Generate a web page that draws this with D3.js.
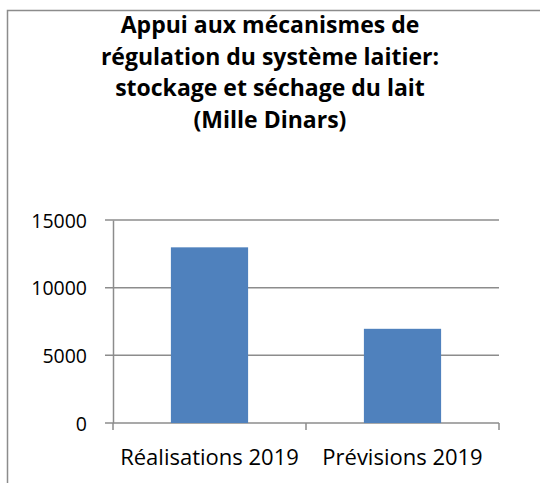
<!DOCTYPE html>
<html>
<head>
<meta charset="utf-8">
<script src="https://cdn.jsdelivr.net/npm/d3@7"></script>
<style>
  body { margin: 0; background: #fff; }
  svg { display: block; }
</style>
</head>
<body>
<div id="chart"></div>
<script>
const categories = ["Réalisations 2019", "Prévisions 2019"];
const values = [12980, 6960];
const yTicks = [0, 5000, 10000, 15000];
const titleLines = [
    "Appui aux mécanismes de",
    "régulation du système laitier:",
    "stockage et séchage du lait",
    "(Mille Dinars)"
];

const W = 540, H = 483;
const margin = { top: 220, right: 41, bottom: 60, left: 113 };
const width = W - margin.left - margin.right;
const height = 423 - margin.top;

const svg = d3.select("#chart")
    .append("svg")
    .attr("width", W)
    .attr("height", H);

// chart frame (right/bottom edges fall outside the picture)
svg.append("path")
    .attr("d", `M7.5,${H + 5} L7.5,10.5 L${W + 5},10.5`)
    .attr("fill", "none")
    .attr("stroke", "#8c8c8c")
    .attr("stroke-width", 1.5);

// title
svg.append("g")
    .selectAll("text")
    .data(titleLines)
    .enter()
    .append("text")
    .attr("x", 270)
    .attr("y", (d, i) => 33 + i * 31.5)
    .attr("text-anchor", "middle")
    .attr("font-family", "'Open Sans', sans-serif")
    .attr("font-weight", "bold")
    .attr("font-size", "23px")
    .attr("fill", "#000")
    .text(d => d);

const g = svg.append("g")
    .attr("transform", `translate(${margin.left},${margin.top})`);

const x = d3.scaleBand()
    .domain(categories)
    .range([0, width])
    .paddingInner(0.6)
    .paddingOuter(0.3);

const y = d3.scaleLinear()
    .domain([0, 15000])
    .range([height, 0]);

// gridlines
g.append("g")
    .selectAll("line")
    .data(yTicks)
    .enter()
    .append("line")
    .attr("x1", -8)
    .attr("x2", width)
    .attr("y1", d => y(d))
    .attr("y2", d => y(d))
    .attr("stroke", "#8c8c8c")
    .attr("stroke-width", 1.5);

// bars
g.selectAll(".bar")
    .data(values)
    .enter()
    .append("rect")
    .attr("class", "bar")
    .attr("x", (d, i) => x(categories[i]))
    .attr("y", d => y(d))
    .attr("width", x.bandwidth())
    .attr("height", d => height - y(d))
    .attr("fill", "#4f81bd");

// y axis
const yAxis = g.append("g")
    .call(d3.axisLeft(y).tickValues(yTicks).tickSize(0).tickPadding(26).tickFormat(d3.format("d")));
yAxis.select(".domain")
    .attr("stroke", "#8c8c8c")
    .attr("stroke-width", 1.5);
yAxis.selectAll("text")
    .attr("font-family", "'Open Sans', sans-serif")
    .attr("font-size", "19.5px")
    .attr("fill", "#000")
    .attr("dy", "0.36em");

// x axis: category boundary ticks
const step = width / categories.length;
g.append("g")
    .selectAll("line")
    .data(d3.range(categories.length + 1))
    .enter()
    .append("line")
    .attr("x1", d => d * step)
    .attr("x2", d => d * step)
    .attr("y1", height)
    .attr("y2", height + 7)
    .attr("stroke", "#8c8c8c")
    .attr("stroke-width", 1.5);

g.append("g")
    .selectAll("text")
    .data(categories)
    .enter()
    .append("text")
    .attr("x", d => x(d) + x.bandwidth() / 2)
    .attr("y", height + 42)
    .attr("text-anchor", "middle")
    .attr("font-family", "'Open Sans', sans-serif")
    .attr("font-size", "22px")
    .attr("fill", "#000")
    .text(d => d);
</script>
</body>
</html>
